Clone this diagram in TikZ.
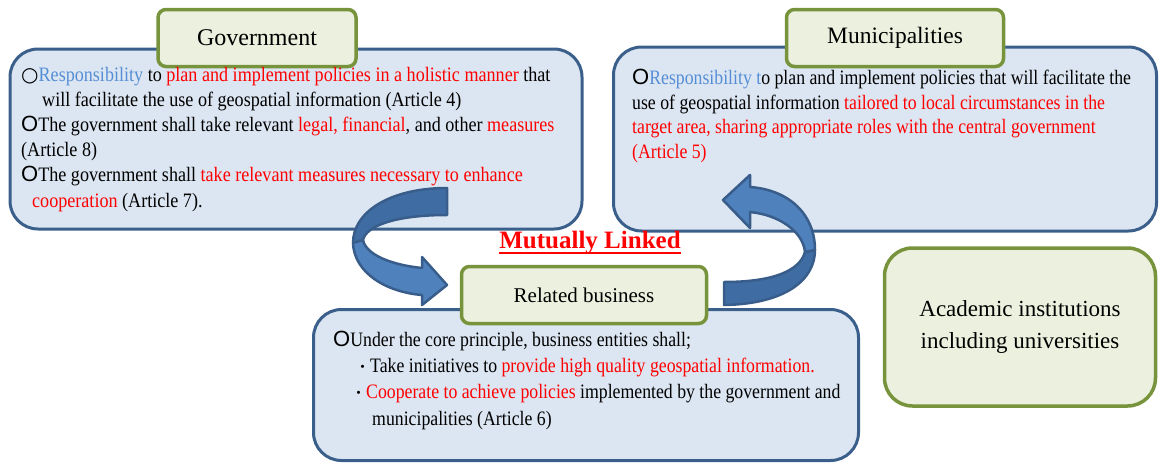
\documentclass[tikz,border=0pt]{standalone}
\usepackage{fontspec}
\setmainfont{Liberation Serif}
\newfontfamily\bodyfont{Liberation Serif}[FakeStretch=0.883]
\newfontfamily\narrowfont{Liberation Serif}[FakeStretch=0.866]
\newfontfamily\ringfont{Liberation Sans}
\newfontfamily\thinringfont{DejaVu Sans}
\newfontfamily\cjkfont{Noto Sans CJK JP}
\usetikzlibrary{positioning}

\definecolor{boxblue}{HTML}{DCE6F2}
\definecolor{lineblue}{HTML}{3A5F8B}
\definecolor{titlegreen}{HTML}{EBF1DE}
\definecolor{linegreen}{HTML}{77933C}
\definecolor{arrowlight}{HTML}{4F81BD}
\definecolor{arrowdark}{HTML}{3F6DA3}
\definecolor{arrowline}{HTML}{385D8A}
\definecolor{respblue}{HTML}{558ED5}

\tikzset{
  bluebox/.style={draw=lineblue, fill=boxblue, line width=3pt, rounded corners=28pt},
  titlebox/.style={draw=linegreen, fill=titlegreen, line width=3.5pt, rounded corners=8pt,
    font=\fontsize{24}{28}\selectfont},
  bodytext/.style={align=left, inner sep=0pt, anchor=base west,
    font=\bodyfont\fontsize{20.5}{25.2}\selectfont},
  arrowpart/.style={draw=arrowline, line width=2.5pt, line join=round}
}

\newcommand{\ring}{{\ringfont\fontsize{22}{22}\selectfont O}}
\newcommand{\thinring}{{\thinringfont\fontsize{20}{20}\selectfont ○}}
\newcommand{\kdot}{{\cjkfont\fontsize{15}{15}\selectfont ・}}

\begin{document}
\begin{tikzpicture}[x=1pt, y=-1pt]
\useasboundingbox (0,0) rectangle (1160,466);

% boxes
\node[bluebox, minimum width=572pt, minimum height=180pt] (gov) at (296,139) {};
\node[bluebox, minimum width=543pt, minimum height=184pt] (muni) at (885,139) {};
\node[bluebox, minimum width=545pt, minimum height=151pt] (biz) at (586,385) {};
\node[titlebox, rounded corners=28pt, minimum width=271pt, minimum height=158pt,
  align=center, font=\fontsize{23}{32}\selectfont] (acad) at (1020,327)
  {Academic institutions\\including universities};

% curved arrows between the boxes
\draw[arrowpart, fill=arrowdark] (447,188) .. controls (390,188) and (353,212) .. (353,243)
  -- (363,240) .. controls (366,226) and (395,215) .. (447,215) -- cycle;
\draw[arrowpart, fill=arrowlight] (353,243) .. controls (354,272) and (385,292) .. (422,295)
  -- (422,305) -- (447,285) -- (422,257) -- (422,268)
  .. controls (392,265) and (366,255) .. (363,240) -- cycle;
\draw[arrowpart, fill=arrowdark] (724,305) .. controls (785,304) and (815,280) .. (815,250)
  -- (805,252) .. controls (800,270) and (775,282) .. (724,282) -- cycle;
\draw[arrowpart, fill=arrowlight] (815,250) .. controls (815,215) and (790,190) .. (750,187)
  -- (750,175) -- (723,200) -- (750,228) -- (750,212)
  .. controls (780,215) and (803,232) .. (805,252) -- cycle;

% titles
\node[titlebox, minimum width=198pt, minimum height=57pt] (govtitle) at (257,38) {Government};
\node[titlebox, minimum width=217pt, minimum height=57pt, font=\fontsize{23.5}{28}\selectfont]
  (munititle) at (895,38) {Municipalities};
\node[titlebox, minimum width=245pt, minimum height=57pt, font=\fontsize{21}{24}\selectfont]
  (biztitle) at (584,295) {Related business};

\node[text=red, inner sep=0pt, font=\bfseries\fontsize{25}{28}\selectfont] (linked) at (590,243) {Mutually Linked};
\draw[red, line width=2pt] ([yshift=-4pt]linked.base west) -- ([yshift=-4pt]linked.base east);

% texts (anchored at the baseline of the last line)
\node[bodytext] (govtext) at (21,207) {%
\thinring\textcolor{respblue}{Responsibility} to \textcolor{red}{plan and implement policies in a holistic manner} that\\
\hspace*{21pt}will facilitate the use of geospatial information (Article 4)\\
\ring The government shall take relevant \textcolor{red}{legal, financial}, and other \textcolor{red}{measures}\\
(Article 8)\\
\ring The government shall \textcolor{red}{take relevant measures necessary to enhance}\\
\hspace*{11pt}\textcolor{red}{cooperation} (Article 7).};

\node[bodytext, font=\narrowfont\fontsize{20.5}{24.4}\selectfont] (munitext) at (632,158) {%
\ring\textcolor{respblue}{Responsibility t}o plan and implement policies that will facilitate the\\
use of geospatial information \textcolor{red}{tailored to local circumstances in the}\\
\textcolor{red}{target area, sharing appropriate roles with the central government}\\
\textcolor{red}{(Article 5)}};

\node[bodytext, font=\narrowfont\fontsize{20.5}{26.3}\selectfont] (biztext) at (333,425) {%
\ring Under the core principle, business entities shall;\\
\hspace*{22pt}\kdot Take initiatives to \textcolor{red}{provide high quality geospatial information.}\\
\hspace*{18pt}\kdot\textcolor{red}{Cooperate to achieve policies} implemented by the government and\\
\hspace*{39pt}municipalities (Article 6)};
\end{tikzpicture}
\end{document}
